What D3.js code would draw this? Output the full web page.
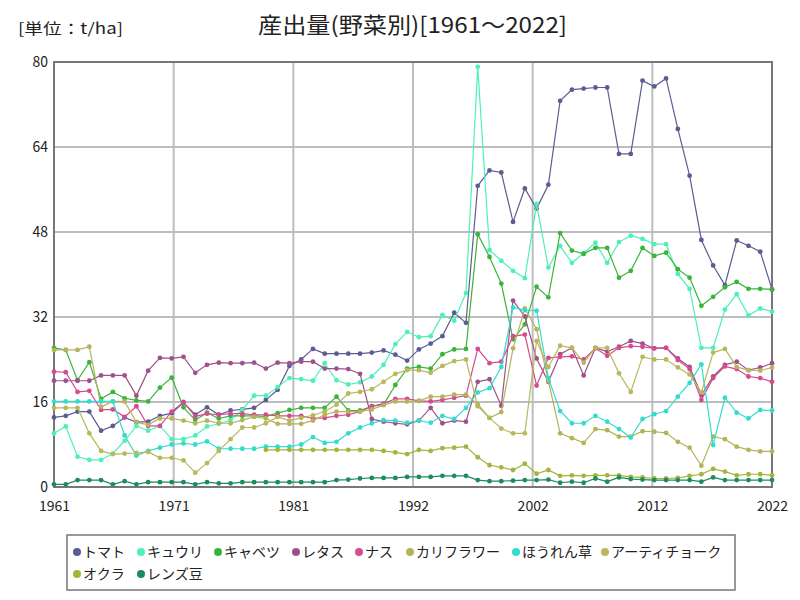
<!DOCTYPE html>
<html><head><meta charset="utf-8">
<script src="https://cdn.jsdelivr.net/npm/d3@7"></script>
<style>body{margin:0;background:#fff;} svg{display:block;}</style>
</head><body>
<svg id="chart" width="800" height="600"></svg>
<script>
const years = d3.range(1961, 2023);
const seriesNames = ["トマト","キュウリ","キャベツ","レタス","ナス","カリフラワー","ほうれん草","アーティチョーク","オクラ","レンズ豆"];
const seriesColors = ["#5c5c94","#4ef0b8","#3cb43c","#a0508c","#d44c8c","#b4b45c","#34dccc","#b8b85c","#a4b43c","#1c8c5c"];
const yTicks = [0,16,32,48,64,80];

const tomato = [13.1,13.4,14.2,14.2,10.6,11.5,13.1,12.2,12.3,13.4,13.9,15.9,13.6,15.0,13.6,14.4,14.6,14.9,16.4,18.3,22.8,24.0,26.0,25.1,25.1,25.1,25.1,25.3,25.7,24.9,23.8,25.9,27.0,28.4,32.8,30.9,56.7,59.6,59.2,49.9,56.2,52.4,56.9,72.7,74.8,75.0,75.2,75.2,62.7,62.7,76.5,75.4,76.9,67.4,58.6,46.5,41.7,38.0,46.4,45.4,44.3,37.2];
const cucumber = [10.1,11.4,5.7,5.1,5.1,6.3,8.7,11.5,10.6,11.5,9.0,9.0,9.7,11.4,11.9,12.6,14.5,17.2,17.2,18.8,20.5,20.3,20.0,23.3,20.1,19.3,19.7,20.8,23.0,26.9,29.2,28.2,28.4,32.4,31.3,36.5,79.1,44.6,42.6,40.7,39.3,53.3,41.3,45.4,42.2,44.0,46.0,42.2,46.1,47.3,46.7,45.7,45.7,40.1,37.3,26.2,26.2,33.4,36.3,32.3,33.6,33.0];
const cabbage = [26.2,25.8,20.1,23.5,16.6,17.9,16.7,16.3,16.1,18.7,20.6,15.0,12.6,14.0,12.9,13.4,13.4,13.4,13.3,13.9,14.5,14.9,14.9,14.9,17.0,14.4,14.4,15.2,15.5,19.2,22.3,22.6,22.3,25.0,25.9,26.0,47.6,43.3,38.3,27.8,30.6,37.7,35.7,47.8,44.5,43.9,45.0,45.0,39.4,40.7,45.0,43.5,44.1,41.0,39.4,34.1,35.8,37.6,38.6,37.3,37.3,37.2];
const lettuce = [20.0,20.0,20.0,20.0,21.0,21.0,21.0,17.2,21.9,24.3,24.2,24.5,21.5,23.0,23.4,23.3,23.3,23.4,22.3,23.4,23.3,23.6,23.6,22.3,22.3,22.2,21.3,12.8,12.3,12.0,11.8,12.5,14.9,12.0,12.5,12.3,19.8,20.3,15.3,35.1,32.1,24.2,19.8,25.0,26.2,21.0,26.2,25.5,26.4,27.5,27.0,26.1,26.2,24.2,22.6,17.3,20.8,23.0,23.6,22.0,22.5,23.3];
const eggplant = [21.7,21.6,17.9,18.1,14.5,14.6,13.2,15.2,11.5,11.5,14.2,16.0,13.3,13.8,13.6,13.8,13.8,13.6,13.6,13.4,13.4,13.4,12.9,13.0,13.4,13.6,14.2,15.2,15.7,16.6,16.6,16.2,16.1,16.4,16.8,17.2,26.0,23.3,23.6,28.4,28.7,19.1,24.3,24.5,24.6,24.0,26.1,24.7,26.2,26.5,26.4,26.1,26.2,23.9,22.2,16.4,20.5,22.7,22.2,20.8,20.5,19.8];
const cauliflower = [25.8,25.8,25.8,26.4,15.1,16.1,16.1,12.2,11.7,12.9,12.9,12.5,12.0,12.5,12.0,12.0,12.6,13.2,12.9,11.9,11.9,11.9,12.5,13.6,14.2,14.2,14.2,14.6,15.4,16.1,16.1,16.2,17.0,17.0,17.4,17.4,15.6,13.0,14.1,26.1,33.6,29.7,20.0,10.1,9.2,8.3,10.9,10.7,9.5,9.5,10.5,10.4,10.2,8.5,7.4,4.0,9.5,9.0,7.6,7.0,6.7,6.7];
const spinach = [16.1,16.1,16.1,16.1,16.1,16.1,9.7,5.9,6.8,7.4,8.0,8.2,8.0,8.6,7.2,7.2,7.2,7.2,7.6,7.6,7.6,8.0,9.4,8.3,8.5,10.1,11.2,12.0,12.6,12.5,12.1,12.5,12.1,13.4,12.8,14.9,17.8,18.6,22.6,33.8,33.3,33.2,20.5,14.3,12.0,12.0,13.4,12.3,10.9,9.3,12.8,13.7,14.3,17.0,19.6,23.1,7.9,16.8,14.0,12.9,14.5,14.4];
const artichoke = [14.9,14.9,14.9,10.1,6.8,6.2,6.3,6.4,6.6,5.5,5.5,5.0,2.7,4.5,6.8,9.0,11.2,11.2,12.0,13.2,12.5,13.0,13.5,14.2,15.5,17.6,17.9,18.4,19.8,21.3,22.0,22.0,21.5,22.8,23.7,24.0,15.2,13.0,11.0,10.1,10.1,27.5,22.6,26.6,26.2,23.4,26.2,26.2,21.4,17.9,24.5,24.0,24.0,22.5,21.2,17.8,25.3,26.0,22.6,22.0,21.9,22.5];
const okra = [null,null,null,null,null,null,null,null,null,null,null,null,null,null,null,null,null,null,7.0,7.0,7.0,7.0,7.0,7.0,7.0,7.0,7.0,7.0,6.8,6.5,6.2,7.0,6.8,7.3,7.4,7.6,5.6,4.1,3.7,3.2,4.4,2.5,3.2,2.1,2.2,2.1,2.2,2.2,2.2,1.9,1.8,1.6,1.6,1.7,2.1,2.4,3.4,2.9,2.2,2.4,2.4,2.2];
const lentils = [0.5,0.5,1.3,1.3,1.3,0.5,1.1,0.5,0.9,0.9,0.9,0.9,0.5,0.9,0.7,0.7,0.9,0.9,0.9,0.9,0.9,0.9,0.9,0.9,1.3,1.4,1.6,1.7,1.7,1.7,1.9,1.9,1.9,2.1,2.1,2.1,1.3,1.1,1.1,1.2,1.3,1.3,1.4,0.8,1.0,0.8,1.6,1.0,1.8,1.5,1.4,1.3,1.3,1.3,1.3,1.0,1.8,1.3,1.3,1.3,1.3,1.3];

const seriesValues = [tomato,cucumber,cabbage,lettuce,eggplant,cauliflower,spinach,artichoke,okra,lentils];

const svg = d3.select("#chart");
const L = 54, R = 772, T = 62, B = 487;
const x = d3.scaleLinear().domain([1961, 2022]).range([L, R]);
const y = d3.scaleLinear().domain([0, 80]).range([B, T]);
const font = "'Noto Sans CJK JP', 'Noto Sans', sans-serif";

const xTickVals = d3.range(0, 7).map(i => 1961 + i * 61 / 6);

const g = svg.append("g");
g.selectAll(".hg").data(yTicks.slice(1, -1)).join("line")
  .attr("x1", L).attr("x2", R).attr("y1", d => y(d)).attr("y2", d => y(d))
  .attr("stroke", "#bdbdbd").attr("stroke-width", 2);
g.selectAll(".vg").data(xTickVals.slice(1, -1)).join("line")
  .attr("y1", T).attr("y2", B).attr("x1", d => x(d)).attr("x2", d => x(d))
  .attr("stroke", "#bdbdbd").attr("stroke-width", 2);
g.append("rect").attr("x", L).attr("y", T).attr("width", R - L).attr("height", B - T)
  .attr("fill", "none").attr("stroke", "#777").attr("stroke-width", 2);

const yAxis = d3.axisLeft(y).tickValues(yTicks).tickSize(0).tickPadding(6);
svg.append("g").attr("transform", `translate(${L},0)`).call(yAxis)
  .call(s => s.select(".domain").remove())
  .selectAll("text").attr("font-family", font).attr("font-size", 14).attr("fill", "#222")
  .attr("transform", "scale(1,1.1)").attr("dy", "0.28em");
const xAxis = d3.axisBottom(x).tickValues(xTickVals).tickSize(0).tickPadding(14).tickFormat(d => Math.round(d));
svg.append("g").attr("transform", `translate(0,${B})`).call(xAxis)
  .call(s => s.select(".domain").remove())
  .selectAll("text").attr("font-family", font).attr("font-size", 14).attr("fill", "#222");

const line = d3.line().defined(d => d.v != null).x(d => x(d.year)).y(d => y(d.v));
seriesNames.forEach((name, i) => {
  const data = years.map((yr, j) => ({year: yr, v: seriesValues[i][j]}));
  const sg = svg.append("g");
  sg.append("path").datum(data).attr("d", line).attr("fill", "none")
    .attr("stroke", seriesColors[i]).attr("stroke-width", 1.2);
  sg.selectAll("circle").data(data.filter(d => d.v != null)).join("circle")
    .attr("cx", d => x(d.year)).attr("cy", d => y(d.v)).attr("r", 2.4)
    .attr("fill", seriesColors[i]);
});

svg.append("text").attr("x", 258).attr("y", 33)
  .attr("font-family", font).attr("font-size", 22).attr("fill", "#222")
  .attr("textLength", 309).attr("lengthAdjust", "spacingAndGlyphs")
  .text("産出量(野菜別)[1961～2022]");
svg.append("text").attr("x", 18).attr("y", 34)
  .attr("font-family", font).attr("font-size", 15).attr("fill", "#222")
  .attr("textLength", 105).attr("lengthAdjust", "spacingAndGlyphs")
  .text("[単位：t/ha]");

const lg = svg.append("g");
lg.append("rect").attr("x", 67).attr("y", 535).attr("width", 668).attr("height", 55)
  .attr("fill", "#fff").attr("stroke", "#777").attr("stroke-width", 1.5);
const legendPos = [[77,552],[141,552],[218,552],[296,552],[359,552],[410,552],[516,552],[605,552],[77,574],[141,574]];
seriesNames.forEach((name, i) => {
  const [lx, ly] = legendPos[i];
  lg.append("circle").attr("cx", lx).attr("cy", ly).attr("r", 4).attr("fill", seriesColors[i]);
  lg.append("text").attr("x", lx + 6).attr("y", ly + 5).attr("font-family", font)
    .attr("font-size", 14).attr("fill", "#222").text(name);
});
</script>
</body></html>
